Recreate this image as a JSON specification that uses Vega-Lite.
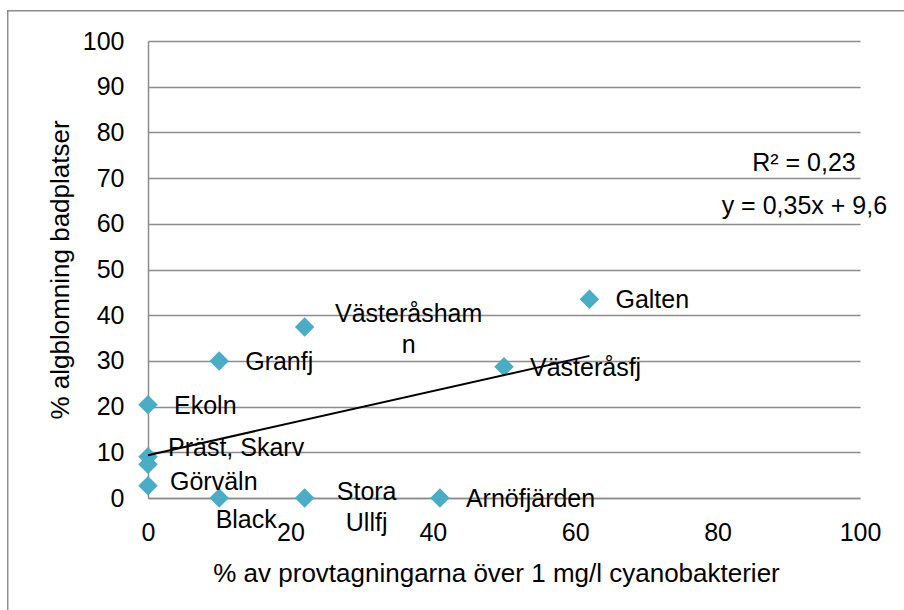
{
  "$schema": "https://vega.github.io/schema/vega-lite/v6.json",
  "width": 712,
  "height": 457,
  "autosize": {"type": "none"},
  "padding": {"left": 148, "top": 41, "right": 44, "bottom": 112},
  "background": "white",
  "config": {
    "view": {"stroke": null},
    "font": "Liberation Sans",
    "text": {"font": "Liberation Sans", "fontSize": 25, "fill": "black"}
  },
  "datasets": {
    "points": [
      {"name": "Ekoln", "label": "Ekoln", "x": 0, "y": 20.4},
      {"name": "Präst", "label": "Präst, Skarv", "x": 0, "y": 9.0},
      {"name": "Skarv", "label": "", "x": 0, "y": 7.4},
      {"name": "Görväln", "label": "Görväln", "x": 0, "y": 2.7},
      {"name": "Black", "label": "Black", "x": 10, "y": 0},
      {"name": "Granfj", "label": "Granfj", "x": 10, "y": 30},
      {"name": "Västeråshamn", "label": "Västeråsham\nn", "x": 22, "y": 37.4},
      {"name": "Stora Ullfj", "label": "Stora\nUllfj", "x": 22, "y": 0},
      {"name": "Arnöfjärden", "label": "Arnöfjärden", "x": 41, "y": 0},
      {"name": "Västeråsfj", "label": "Västeråsfj", "x": 50, "y": 28.7},
      {"name": "Galten", "label": "Galten", "x": 62, "y": 43.5}
    ]
  },
  "data": {"name": "points"},
  "layer": [
    {
      "data": {"values": [{}]},
      "mark": {"type": "rect", "fill": null, "stroke": "#8c8c8c", "strokeWidth": 1.5},
      "encoding": {
        "x": {"datum": -19.7, "type": "quantitative"},
        "x2": {"datum": 130},
        "y": {"datum": 106.6, "type": "quantitative"},
        "y2": {"datum": -40}
      }
    },
    {
      "mark": {"type": "point", "shape": "diamond", "filled": true, "size": 380, "color": "#4BACC6", "opacity": 1},
      "encoding": {
        "x": {
          "field": "x", "type": "quantitative",
          "scale": {"domain": [0, 100], "nice": false, "zero": false},
          "axis": {
            "title": "% av provtagningarna över 1 mg/l cyanobakterier",
            "values": [0, 20, 40, 60, 80, 100],
            "grid": false, "ticks": false,
            "domainColor": "#8c8c8c", "domainWidth": 1.5,
            "labelFont": "Liberation Sans", "labelFontSize": 25, "labelColor": "black",
            "labelPadding": 22, "labelFlush": false, "labelOverlap": false,
            "titleFont": "Liberation Sans", "titleFontSize": 26, "titleFontWeight": "normal",
            "titleColor": "black", "titlePadding": 15, "titleX": 348
          }
        },
        "y": {
          "field": "y", "type": "quantitative",
          "scale": {"domain": [0, 100], "nice": false, "zero": false},
          "axis": {
            "title": "% algblomning badplatser",
            "values": [0, 10, 20, 30, 40, 50, 60, 70, 80, 90, 100],
            "grid": true, "gridColor": "#8c8c8c", "gridWidth": 1.5,
            "ticks": false,
            "domainColor": "#8c8c8c", "domainWidth": 1.5,
            "labelFont": "Liberation Sans", "labelFontSize": 25, "labelColor": "black",
            "labelPadding": 24, "labelOverlap": false,
            "titleFont": "Liberation Sans", "titleFontSize": 26, "titleFontWeight": "normal",
            "titleColor": "black", "titlePadding": 9
          }
        }
      }
    },
    {
      "transform": [{"filter": {"field": "name", "oneOf": ["Ekoln", "Granfj", "Arnöfjärden", "Västeråsfj", "Galten"]}}],
      "mark": {"type": "text", "align": "left", "baseline": "middle", "dx": 26, "dy": 1},
      "encoding": {
        "x": {"field": "x", "type": "quantitative"},
        "y": {"field": "y", "type": "quantitative"},
        "text": {"field": "label"}
      }
    },
    {
      "transform": [{"filter": {"field": "name", "equal": "Görväln"}}],
      "mark": {"type": "text", "align": "left", "baseline": "middle", "dx": 22, "dy": -4},
      "encoding": {
        "x": {"field": "x", "type": "quantitative"},
        "y": {"field": "y", "type": "quantitative"},
        "text": {"field": "label"}
      }
    },
    {
      "transform": [{"filter": {"field": "name", "equal": "Präst"}}],
      "mark": {"type": "text", "align": "left", "baseline": "middle", "dx": 20, "dy": -9},
      "encoding": {
        "x": {"field": "x", "type": "quantitative"},
        "y": {"field": "y", "type": "quantitative"},
        "text": {"field": "label"}
      }
    },
    {
      "transform": [{"filter": {"field": "name", "equal": "Black"}}],
      "mark": {"type": "text", "align": "center", "baseline": "middle", "dx": 27, "dy": 22},
      "encoding": {
        "x": {"field": "x", "type": "quantitative"},
        "y": {"field": "y", "type": "quantitative"},
        "text": {"field": "label"}
      }
    },
    {
      "transform": [{"filter": {"field": "name", "equal": "Västeråshamn"}}],
      "mark": {"type": "text", "align": "center", "baseline": "middle", "dx": 104, "dy": -13, "lineBreak": "\n", "lineHeight": 31},
      "encoding": {
        "x": {"field": "x", "type": "quantitative"},
        "y": {"field": "y", "type": "quantitative"},
        "text": {"field": "label"}
      }
    },
    {
      "transform": [{"filter": {"field": "name", "equal": "Stora Ullfj"}}],
      "mark": {"type": "text", "align": "center", "baseline": "middle", "dx": 62, "dy": -6, "lineBreak": "\n", "lineHeight": 31},
      "encoding": {
        "x": {"field": "x", "type": "quantitative"},
        "y": {"field": "y", "type": "quantitative"},
        "text": {"field": "label"}
      }
    },
    {
      "transform": [{"regression": "y", "on": "x", "extent": [0, 62]}],
      "mark": {"type": "line", "color": "black", "strokeWidth": 2},
      "encoding": {
        "x": {"field": "x", "type": "quantitative"},
        "y": {"field": "y", "type": "quantitative"}
      }
    },
    {
      "data": {"values": [{}]},
      "mark": {"type": "text", "align": "right", "baseline": "middle", "text": "R² = 0,23"},
      "encoding": {
        "x": {"datum": 99.4, "type": "quantitative"},
        "y": {"datum": 73.3, "type": "quantitative"}
      }
    },
    {
      "data": {"values": [{}]},
      "mark": {"type": "text", "align": "right", "baseline": "middle", "text": "y = 0,35x + 9,6"},
      "encoding": {
        "x": {"datum": 103.8, "type": "quantitative"},
        "y": {"datum": 63.9, "type": "quantitative"}
      }
    }
  ]
}
